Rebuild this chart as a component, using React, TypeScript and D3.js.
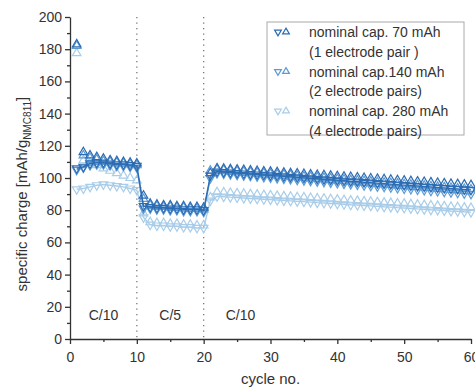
import * as d3 from "d3";
import React, { useEffect, useRef } from "react";

// cycle numbers 1..60
const cycles = d3.range(1, 61);

// 70 mAh (1 electrode pair)
const charge70 = [
  183, 116, 114, 113, 112, 111, 110.5, 110, 109.5, 109,
  89, 84, 83.5, 83, 83, 82.5, 82.5, 82, 82, 81.5,
  103, 106.0, 105.8, 105.5, 105.2, 105.0, 104.7, 104.4, 104.1, 103.9,
  103.6, 103.3, 103.0, 102.8, 102.5, 102.2, 101.9, 101.7, 101.4, 101.1,
  100.8, 100.6, 100.3, 100.0, 99.7, 99.5, 99.2, 98.9, 98.6, 98.4,
  98.1, 97.8, 97.5, 97.3, 97.0, 96.7, 96.4, 96.2, 95.9, 95.6,
];
const discharge70 = [
  106, 107, 109, 109.5, 109.5, 109, 108.5, 108.5, 108, 107.5,
  82.5, 82, 81.5, 81.5, 81, 81, 80.5, 80.5, 80.5, 80,
  101.5, 104.0, 103.7, 103.4, 103.1, 102.8, 102.5, 102.2, 101.9, 101.6,
  101.3, 101.0, 100.7, 100.4, 100.1, 99.8, 99.5, 99.2, 98.9, 98.6,
  98.3, 98.0, 97.7, 97.4, 97.1, 96.8, 96.5, 96.2, 95.9, 95.6,
  95.3, 95.0, 94.7, 94.4, 94.1, 93.8, 93.5, 93.2, 92.9, 92.6,
];

// 140 mAh (2 electrode pairs)
const charge140 = [
  182, 114, 112.5, 111.5, 110.5, 110, 109.5, 109, 108.5, 108,
  87, 83, 82.5, 82, 82, 81.5, 81.5, 81, 81, 80.5,
  104.5, 105.2, 104.9, 104.6, 104.3, 103.9, 103.6, 103.3, 103.0, 102.6,
  102.3, 102.0, 101.7, 101.3, 101.0, 100.7, 100.4, 100.0, 99.7, 99.4,
  99.1, 98.7, 98.4, 98.1, 97.8, 97.4, 97.1, 96.8, 96.5, 96.1,
  95.8, 95.5, 95.2, 94.8, 94.5, 94.2, 93.9, 93.5, 93.2, 92.9,
];
const discharge140 = [
  105, 106.5, 108, 108.5, 108.5, 108, 107.5, 107.5, 107, 106.5,
  81, 81, 80.5, 80.5, 80, 80, 79.5, 79.5, 79.5, 79,
  100, 103.0, 102.7, 102.3, 102.0, 101.6, 101.3, 101.0, 100.6, 100.3,
  99.9, 99.6, 99.3, 98.9, 98.6, 98.2, 97.9, 97.6, 97.2, 96.9,
  96.5, 96.2, 95.9, 95.5, 95.2, 94.8, 94.5, 94.2, 93.8, 93.5,
  93.1, 92.8, 92.5, 92.1, 91.8, 91.4, 91.1, 90.8, 90.4, 90.1,
];

// 280 mAh (4 electrode pairs)
const charge280 = [
  177.5, 111, 109.5, 108, 106, 104.5, 103, 101.5, 100, 98.5,
  78, 72.5, 72, 72, 71.5, 71.5, 71, 71, 70.5, 70.5,
  88, 91.2, 91.0, 90.7, 90.5, 90.2, 89.9, 89.7, 89.4, 89.2,
  88.9, 88.6, 88.4, 88.1, 87.9, 87.6, 87.3, 87.1, 86.8, 86.6,
  86.3, 86.0, 85.8, 85.5, 85.3, 85.0, 84.7, 84.5, 84.2, 84.0,
  83.7, 83.4, 83.2, 82.9, 82.7, 82.4, 82.1, 81.9, 81.6, 81.4,
];
const discharge280 = [
  93, 93.5, 94.5, 95.5, 96, 95.5, 95, 94.5, 93.5, 92.5,
  75.5, 71, 70.5, 70.5, 70, 70, 69.5, 69.5, 69, 69,
  86, 88.6, 88.4, 88.1, 87.9, 87.6, 87.3, 87.1, 86.8, 86.6,
  86.3, 86.0, 85.8, 85.5, 85.3, 85.0, 84.7, 84.5, 84.2, 84.0,
  83.7, 83.4, 83.2, 82.9, 82.7, 82.4, 82.1, 81.9, 81.6, 81.4,
  81.1, 80.8, 80.6, 80.3, 80.1, 79.8, 79.5, 79.3, 79.0, 78.8,
];

const legendLabels = [
  ["nominal cap. 70 mAh", "(1 electrode pair )"],
  ["nominal cap.140 mAh", "(2 electrode pairs)"],
  ["nominal cap. 280 mAh", "(4 electrode pairs)"],
];
const rateLabels = [
  { x: 5, text: "C/10" },
  { x: 15, text: "C/5" },
  { x: 25.5, text: "C/10" },
];
const rateChanges = [10, 20];
const xTicks = [0, 10, 20, 30, 40, 50, 60];
const yTicks = [0, 20, 40, 60, 80, 100, 120, 140, 160, 180, 200];

const series = [
  { charge: charge280, discharge: discharge280, color: "#a9cde9" },
  { charge: charge140, discharge: discharge140, color: "#5c9bd6" },
  { charge: charge70, discharge: discharge70, color: "#2d6cb2" },
];
const legendColors = ["#2d6cb2", "#5c9bd6", "#a9cde9"];

const App: React.FC = () => {
  const ref = useRef<SVGSVGElement>(null);

  useEffect(() => {
    const svg = d3.select(ref.current!);
    svg.selectAll("*").remove();

    const x = d3.scaleLinear().domain([0, 60]).range([70, 471]);
    const y = d3.scaleLinear().domain([0, 200]).range([339, 17]);
    const font = "'Liberation Sans', Arial, sans-serif";
    const axisColor = "#333";

    // rate change markers
    svg
      .selectAll(".rate")
      .data(rateChanges)
      .enter()
      .append("line")
      .attr("x1", (d) => x(d))
      .attr("x2", (d) => x(d))
      .attr("y1", y(200))
      .attr("y2", y(1))
      .attr("stroke", "#777")
      .attr("stroke-width", 1.3)
      .attr("stroke-dasharray", "1.3,4.2");

    svg
      .selectAll(".ratelabel")
      .data(rateLabels)
      .enter()
      .append("text")
      .attr("x", (d) => x(d.x))
      .attr("y", y(12))
      .attr("text-anchor", "middle")
      .attr("font-family", font)
      .attr("font-size", 14)
      .attr("fill", axisColor)
      .text((d) => d.text);

    const triUp = d3.symbol().type(d3.symbolTriangle).size(32)()!;
    const triSmall = d3.symbol().type(d3.symbolTriangle).size(20)()!;

    series.forEach((s) => {
      const line = d3
        .line<number>()
        .x((_, i) => x(cycles[i]))
        .y((d) => y(d));
      svg
        .append("path")
        .attr("d", line(s.discharge)!)
        .attr("fill", "none")
        .attr("stroke", s.color)
        .attr("stroke-width", 1.4);

      svg
        .append("g")
        .selectAll("path")
        .data(s.discharge)
        .enter()
        .append("path")
        .attr("d", triUp)
        .attr("transform", (d, i) => `translate(${x(cycles[i])},${y(d)}) rotate(180)`)
        .attr("fill", "none")
        .attr("stroke", s.color)
        .attr("stroke-width", 1.2);

      svg
        .append("g")
        .selectAll("path")
        .data(s.charge)
        .enter()
        .append("path")
        .attr("d", triUp)
        .attr("transform", (d, i) => `translate(${x(cycles[i])},${y(d)})`)
        .attr("fill", "none")
        .attr("stroke", s.color)
        .attr("stroke-width", 1.2);
    });

    // axes
    const xAxis = svg
      .append("g")
      .attr("transform", `translate(0,${y(0)})`)
      .call(d3.axisBottom(x).tickValues(xTicks).tickSize(5).tickSizeOuter(0));
    svg
      .append("g")
      .attr("transform", `translate(0,${y(0)})`)
      .call(
        d3
          .axisBottom(x)
          .tickValues([5, 15, 25, 35, 45, 55])
          .tickSize(3)
          .tickFormat(() => "")
      )
      .select(".domain")
      .remove();

    const yAxis = svg
      .append("g")
      .attr("transform", `translate(${x(0)},0)`)
      .call(d3.axisLeft(y).tickValues(yTicks).tickSize(5).tickSizeOuter(0));
    svg
      .append("g")
      .attr("transform", `translate(${x(0)},0)`)
      .call(
        d3
          .axisLeft(y)
          .tickValues(d3.range(10, 200, 20))
          .tickSize(3)
          .tickFormat(() => "")
      )
      .select(".domain")
      .remove();

    svg.selectAll(".domain, .tick line").attr("stroke", axisColor).attr("stroke-width", 1.3);
    [xAxis, yAxis].forEach((a) =>
      a
        .selectAll("text")
        .attr("font-family", font)
        .attr("font-size", 14)
        .attr("fill", axisColor)
    );
    xAxis.selectAll("text").attr("dy", "1.05em");

    // axis titles
    svg
      .append("text")
      .attr("x", x(30))
      .attr("y", 384)
      .attr("text-anchor", "middle")
      .attr("font-family", font)
      .attr("font-size", 15)
      .attr("fill", axisColor)
      .text("cycle no.");

    const yt = svg
      .append("text")
      .attr("transform", `translate(27,${y(90)}) rotate(-90)`)
      .attr("text-anchor", "middle")
      .attr("font-family", font)
      .attr("font-size", 15)
      .attr("fill", axisColor);
    yt.append("tspan").text("specific charge [mAh/g");
    yt.append("tspan").attr("font-size", 10).attr("dy", 4).text("NMC811");
    yt.append("tspan").attr("dy", -4).text("]");

    // legend
    const lg = svg.append("g");
    lg.append("rect")
      .attr("x", 267)
      .attr("y", 22)
      .attr("width", 197)
      .attr("height", 113)
      .attr("fill", "white")
      .attr("stroke", "#aaa")
      .attr("stroke-width", 1);
    legendLabels.forEach((lab, i) => {
      const cy = 32 + i * 39.5;
      lg.append("path")
        .attr("d", triSmall)
        .attr("transform", `translate(278,${cy}) rotate(180)`)
        .attr("fill", "none")
        .attr("stroke", legendColors[i])
        .attr("stroke-width", 1.2);
      lg.append("path")
        .attr("d", triSmall)
        .attr("transform", `translate(286,${cy})`)
        .attr("fill", "none")
        .attr("stroke", legendColors[i])
        .attr("stroke-width", 1.2);
      lab.forEach((t, j) => {
        lg.append("text")
          .attr("x", 309)
          .attr("y", cy + 5 + j * 19.5)
          .attr("font-family", font)
          .attr("font-size", 14)
          .attr("fill", axisColor)
          .text(t);
      });
    });
  }, []);

  return (
    <svg
      ref={ref}
      width={475}
      height={389}
      style={{ position: "absolute", left: 0, top: 0, background: "white" }}
    />
  );
};

export default App;
